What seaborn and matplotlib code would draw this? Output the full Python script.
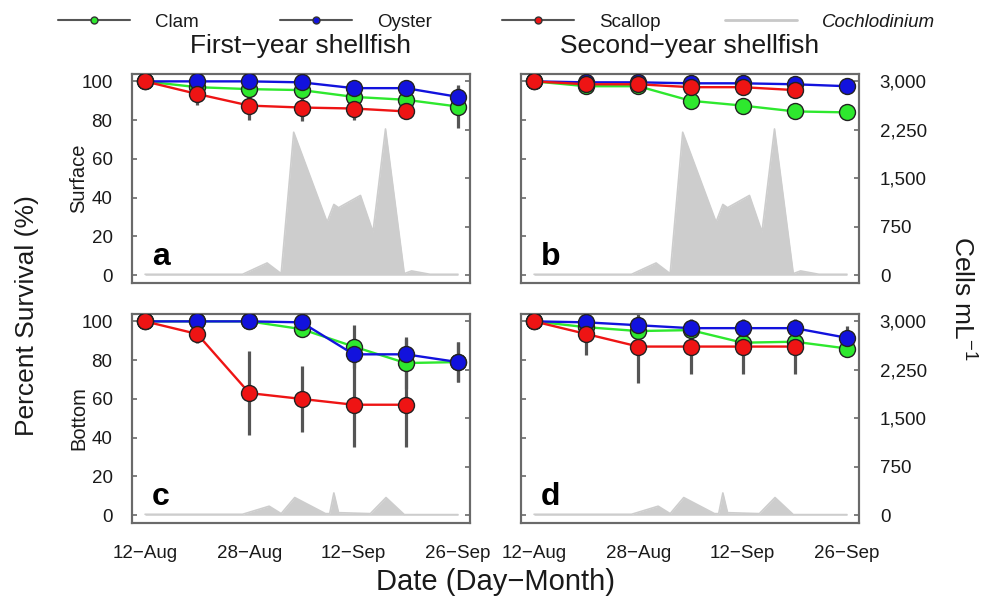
import numpy as np
import pandas as pd
import matplotlib
matplotlib.use("Agg")
import matplotlib.pyplot as plt
from matplotlib.lines import Line2D
from matplotlib.ticker import FuncFormatter
import seaborn as sns

# ---------------- data ----------------
sample_idx = [0, 1, 2, 3, 4, 5, 6]
date_labels = ["12−Aug", "", "28−Aug", "", "12−Sep", "", "26−Sep"]
species = ["Clam", "Oyster", "Scallop"]
nan = np.nan

# a: first-year, surface
clam_a = [100, 97, 96, 95.5, 92, 90.5, 87]
oyster_a = [100, 100, 100, 99.5, 96.5, 96.5, 92]
scallop_a = [100, 93.5, 87.5, 86.5, 86, 84.5, nan]
clam_a_err = [0, 2, 3, 3, 3, 3, 11]
oyster_a_err = [0, 1, 1, 1, 2, 2, 5]
scallop_a_err = [0, 5.5, 7.5, 7, 6, 4, nan]

# b: second-year, surface
clam_b = [100, 97.5, 97.5, 90, 87.5, 84.5, 84]
oyster_b = [100, 99.5, 99.5, 99, 99, 98.5, 97.5]
scallop_b = [100, 98.5, 98.5, 97, 97, 95.5, nan]
clam_b_err = [0, 1, 1, 2, 4, 1, 1]
oyster_b_err = [0, 1, 1, 1, 1, 1, 1]
scallop_b_err = [0, 1, 1, 1, 1, 1, nan]

# c: first-year, bottom
clam_c = [100, 100, 100, 96, 87, 78.5, 79]
oyster_c = [100, 100, 100, 99.5, 83, 83, 79]
scallop_c = [100, 93.5, 63, 60, 57, 57, nan]
clam_c_err = [0, 0, 0, 2, 11, 13.5, 10.5]
oyster_c_err = [0, 0, 0, 1, 5, 8, 10.5]
scallop_c_err = [0, 4.5, 21.5, 17, 22, 22, nan]

# d: second-year, bottom
clam_d = [100, 97, 95, 95.5, 89, 89.5, 86]
oyster_d = [100, 99.5, 98, 96.5, 96.5, 96.5, 91.5]
scallop_d = [100, 93.5, 87, 87, 87, 87, nan]
clam_d_err = [0, 2, 2, 2, 3, 3, 3]
oyster_d_err = [0, 1, 2, 1, 1, 1, 6]
scallop_d_err = [0, 11, 19, 14, 14, 14, nan]

# Cochlodinium cells mL-1 (x in sampling-interval units)
coch_surface_x = [0, 1.87, 2.34, 2.61, 2.85, 3.49, 3.62, 3.71, 4.13, 4.37, 4.61, 4.97, 5.11, 5.46, 6.0]
coch_surface = [15, 15, 190, 25, 2213, 823, 1096, 1045, 1235, 669, 2264, 25, 67, 15, 15]
coch_bottom_x = [0, 1.87, 2.38, 2.61, 2.87, 3.46, 3.54, 3.62, 3.71, 4.32, 4.62, 4.97, 6.0]
coch_bottom = [15, 15, 140, 25, 274, 25, 25, 345, 40, 25, 274, 10, 10]

cell_ticks = [0, 750, 1500, 2250, 3000]
surv_ticks = [0, 20, 40, 60, 80, 100]

# ---------------- style ----------------
sns.set_theme(style="white")
plt.rcParams["font.family"] = ["Liberation Sans", "DejaVu Sans"]
plt.rcParams["mathtext.fontset"] = "custom"
plt.rcParams["mathtext.rm"] = "Liberation Sans"
plt.rcParams["mathtext.it"] = "Liberation Sans:italic"

colors = {"Clam": "#2ee82e", "Oyster": "#1212dd", "Scallop": "#ee1414"}
frame_col = "#6a6a6a"
err_col = "#555555"
coch_col = "#cdcdcd"
txt_col = "#1a1a1a"

fig = plt.figure(figsize=(10.03, 6), dpi=100)

W, H = 1003, 600
def rect(l, t, r, b):
    return [l / W, 1 - b / H, (r - l) / W, (b - t) / H]

panels = [
    dict(letter="a", pos=rect(132, 74, 470, 283),
         vals=(clam_a, oyster_a, scallop_a), errs=(clam_a_err, oyster_a_err, scallop_a_err),
         cx=coch_surface_x, cy=coch_surface, left=True, bottom=False),
    dict(letter="b", pos=rect(521, 74, 859, 283),
         vals=(clam_b, oyster_b, scallop_b), errs=(clam_b_err, oyster_b_err, scallop_b_err),
         cx=coch_surface_x, cy=coch_surface, left=False, bottom=False),
    dict(letter="c", pos=rect(132, 314, 470, 523),
         vals=(clam_c, oyster_c, scallop_c), errs=(clam_c_err, oyster_c_err, scallop_c_err),
         cx=coch_bottom_x, cy=coch_bottom, left=True, bottom=True),
    dict(letter="d", pos=rect(521, 314, 859, 523),
         vals=(clam_d, oyster_d, scallop_d), errs=(clam_d_err, oyster_d_err, scallop_d_err),
         cx=coch_bottom_x, cy=coch_bottom, left=False, bottom=True),
]

ylo, yhi = -4, 103.8
for p in panels:
    ax = fig.add_axes(p["pos"])
    ax2 = ax.twinx()
    ax.set_zorder(ax2.get_zorder() + 1)
    ax.patch.set_visible(False)

    # Cochlodinium area on the right (cells) axis
    ax2.fill_between(p["cx"], p["cy"], 0, color=coch_col, lw=0)
    ax2.plot(p["cx"], p["cy"], color=coch_col, lw=1.2)
    ax2.set_ylim(ylo * 30, yhi * 30)

    rows = []
    for sp, v, e in zip(species, p["vals"], p["errs"]):
        for xi, vi, ei in zip(sample_idx, v, e):
            if not np.isnan(vi):
                rows.append(dict(x=xi, survival=vi, err=ei, species=sp))
    df = pd.DataFrame(rows)

    for sp in species:
        sub = df[df.species == sp]
        ax.errorbar(sub.x, sub.survival, yerr=sub.err, fmt="none", ecolor=err_col,
                    elinewidth=2.3, capsize=0, zorder=1)

    sns.lineplot(data=df, x="x", y="survival", hue="species", hue_order=species,
                 palette=colors, marker="o", markersize=11.5, markeredgecolor="#222222",
                 markeredgewidth=1.0, lw=1.7, legend=False, errorbar=None, ax=ax, zorder=3)

    ax.set_xlim(-0.25, 6.23)
    ax.set_ylim(ylo, yhi)
    ax.set_xticks(sample_idx)
    ax.set_yticks(surv_ticks)
    ax2.set_yticks(cell_ticks)
    ax.set_xlabel("")
    ax.set_ylabel("")
    ax2.set_ylabel("")

    for a in (ax, ax2):
        a.tick_params(direction="in", length=3.5, width=1.2, color=frame_col,
                      labelsize=13.5, labelcolor=txt_col)
        for s in a.spines.values():
            s.set_color(frame_col)
            s.set_linewidth(1.5)
    ax.tick_params(axis="y", pad=14)
    ax.tick_params(axis="x", pad=16)
    ax2.tick_params(axis="y", pad=15)

    if p["bottom"]:
        ax.set_xticklabels(date_labels)
    else:
        ax.set_xticklabels([])
    if not p["left"]:
        ax.set_yticklabels([])
        ax2.yaxis.set_major_formatter(FuncFormatter(lambda v, _: f"{int(v):,}"))
    else:
        ax2.set_yticklabels([])

    ax.text(0.059, 0.086, p["letter"], transform=ax.transAxes, fontsize=23,
            fontweight="bold", color="black", ha="left", va="baseline")

# titles / labels
fig.text(301 / W, 1 - 46 / H, "First−year shellfish", ha="center", va="center",
         fontsize=19, color=txt_col)
fig.text(690 / W, 1 - 46 / H, "Second−year shellfish", ha="center", va="center",
         fontsize=19, color=txt_col)
fig.text(79 / W, 1 - 178.5 / H, "Surface", rotation=90, ha="center", va="center",
         fontsize=14.5, color=txt_col)
fig.text(79 / W, 1 - 418.5 / H, "Bottom", rotation=90, ha="center", va="center",
         fontsize=14.5, color=txt_col)
fig.text(27 / W, 1 - 316 / H, "Percent Survival (%)", rotation=90, ha="center",
         va="center", fontsize=19, color=txt_col)
fig.text(962 / W, 1 - 298 / H, r"Cells mL$^{-1}$", rotation=270, ha="center",
         va="center", fontsize=19, color=txt_col)
fig.text(495.5 / W, 1 - 582 / H, "Date (Day−Month)", ha="center", va="center",
         fontsize=21, color=txt_col)

# legend: four evenly spaced entries
leg_entries = [
    (58, Line2D([], [], color="#555555", lw=1.5, marker="o", markersize=5,
                markerfacecolor=colors["Clam"], markeredgecolor="#333333"), "Clam", "normal"),
    (280, Line2D([], [], color="#555555", lw=1.5, marker="o", markersize=5,
                 markerfacecolor=colors["Oyster"], markeredgecolor="#333333"), "Oyster", "normal"),
    (502, Line2D([], [], color="#555555", lw=1.5, marker="o", markersize=5,
                 markerfacecolor=colors["Scallop"], markeredgecolor="#333333"), "Scallop", "normal"),
    (725, Line2D([], [], color="#c8c8c8", lw=2), "Cochlodinium", "italic"),
]
for xpx, h, lab, style in leg_entries:
    leg = fig.legend([h], [lab], loc="center left", bbox_to_anchor=(xpx / W, 1 - 22 / H),
                     frameon=False, fontsize=13.5, borderpad=0, borderaxespad=0,
                     handlelength=3.84, handletextpad=1.33)
    for t in leg.get_texts():
        t.set_style(style)
        t.set_color(txt_col)

fig.savefig("out.png", dpi=100)
